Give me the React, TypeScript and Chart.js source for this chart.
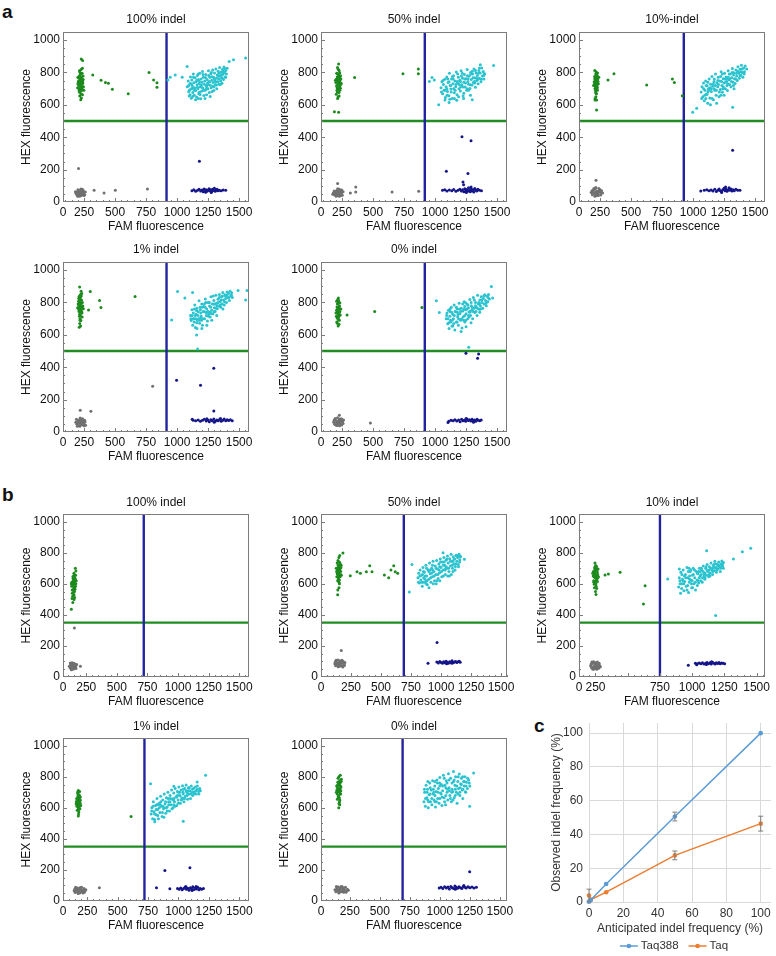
import React, { useEffect, useRef } from "react";
import { Chart, registerables } from "chart.js";
Chart.register(...registerables);

const FONT = "'Liberation Sans', Arial, sans-serif";
const GREEN = "#1d8a1d";
const CYAN = "#2ac3cf";
const NAVY = "#15158a";
const GRAY = "#707070";
const THR_BLUE = "#2323a0";
const THR_GREEN = "#218c21";

const X_TICKS = [0, 250, 500, 750, 1000, 1250, 1500];
const X_TICKS_B3 = [0, 250, 750, 1000, 1250, 1500];
const Y_TICKS = [0, 200, 400, 600, 800, 1000];
const C_TICKS = [0, 20, 40, 60, 80, 100];

// ---------- panel a ----------
const A1_GREEN = [[205,745],[214,782],[221,710],[228,760],[209,692],[233,728],[217,801],[224,668],[200,770],[238,745],[212,735],[226,818],[219,752],[231,690],[207,720],[242,778],[215,655],[222,790],[235,706],[203,742],[229,770],[211,680],[218,725],[240,735],[226,698],[213,810],[232,752],[208,765],[237,662],[221,740],[245,712],[216,775],[228,642],[198,705],[234,795],[219,684],[225,730],[210,748],[243,757],[223,632],[248,690],[236,826],[200,730],[230,715],[214,700],[227,883],[238,874],[320,785],[387,752],[422,738],[446,734],[478,697],[606,668],[774,800],[811,754],[838,709],[838,736]];
const A1_CYAN = [[1082,712],[1090,748],[1094,681],[1098,655],[1103,730],[1108,772],[1111,698],[1115,641],[1119,754],[1122,719],[1127,676],[1131,790],[1135,737],[1138,660],[1142,705],[1146,768],[1150,688],[1153,742],[1157,648],[1161,724],[1164,781],[1168,700],[1172,756],[1175,668],[1179,731],[1183,795],[1186,712],[1190,637],[1194,760],[1197,684],[1201,739],[1205,806],[1208,703],[1212,771],[1216,658],[1220,727],[1223,748],[1227,690],[1231,787],[1234,716],[1238,663],[1242,757],[1246,735],[1249,699],[1253,810],[1257,744],[1260,676],[1264,771],[1268,721],[1272,792],[1275,706],[1279,752],[1283,683],[1287,815],[1290,738],[1294,770],[1298,712],[1302,797],[1305,749],[1309,725],[1313,822],[1317,764],[1320,700],[1324,785],[1328,742],[1332,808],[1336,760],[1339,727],[1343,830],[1347,779],[1351,748],[1355,801],[1358,765],[1362,734],[1366,818],[1370,789],[1374,756],[1378,834],[1382,800],[1387,772],[1392,812],[1398,790],[1404,826],[1130,705],[1180,745],[1240,720],[1100,690],[1170,640],
  [1392,770],[1371,808],[1349,725],[1333,776],[1311,742],[1296,689],[1281,774],[1262,741],[1244,700],[1229,769],[1215,690],[1196,722],[1178,678],[1160,752],[1140,690],[1121,701],[1105,662],[1093,718],[1267,652],[1225,640],[1186,664],[1149,631],[1318,722],[1356,784],[1384,824],[1301,760],[1255,782],[1209,787],[1170,790],[1132,770],[1113,731],[1276,800],[1337,795],[1363,768],[1289,715],[1238,702],[1199,708],[1164,708],[1126,652],[1250,725],
  [926,754],[945,771],[985,785],[1041,771],[1081,837],[1420,868],[1455,878],[1553,889]];
const A1_GRAY = [[185,52],[196,61],[204,44],[210,70],[216,55],[222,38],[228,63],[235,49],[242,72],[248,58],[255,45],[200,75],[212,35],[224,80],[238,66],[250,40],[192,45],[206,58],[218,68],[230,42],[244,55],[260,62],[180,64],[226,52],[214,48],[236,78],[198,36],[205,207],[331,72],[411,56],[502,72],[761,81]];
const A1_NAVY = [[1120,70],[1135,75],[1150,66],[1165,72],[1178,78],[1190,68],[1202,74],[1210,64],[1218,80],[1226,70],[1234,76],[1242,66],[1250,72],[1258,82],[1265,69],[1272,75],[1280,64],[1287,79],[1294,71],[1301,85],[1308,67],[1315,74],[1322,78],[1330,70],[1340,73],[1355,69],[1372,74],[1392,72],[1230,60],[1275,58],[1180,252]];

const A2_GREEN = [[205,760],[214,790],[222,730],[210,705],[230,770],[218,745],[226,812],[200,738],[235,720],[212,680],[224,760],[207,795],[232,690],[216,725],[228,750],[203,665],[238,780],[220,700],[211,772],[226,655],[234,740],[208,748],[219,820],[229,712],[214,640],[240,760],[222,785],[205,718],[231,798],[217,760],[196,752],[244,732],[225,676],[213,830],[236,703],[220,770],[228,727],[209,690],[218,650],[233,755],[222,852],[188,558],[222,554],[351,769],[741,792],[865,821],[865,792]];
const A2_CYAN = [[1048,705],[1055,742],[1061,668],[1067,725],[1072,690],[1078,758],[1083,646],[1089,712],[1094,772],[1100,683],[1105,738],[1111,657],[1116,795],[1122,720],[1127,698],[1133,760],[1138,640],[1144,731],[1149,780],[1155,675],[1160,747],[1166,712],[1171,803],[1177,662],[1182,735],[1188,770],[1193,700],[1199,752],[1204,685],[1210,810],[1215,724],[1221,765],[1226,655],[1232,740],[1237,788],[1243,711],[1248,762],[1254,690],[1259,818],[1265,745],[1270,728],[1276,778],[1281,701],[1287,800],[1292,756],[1298,722],[1303,790],[1309,738],[1314,822],[1320,768],[1325,708],[1331,797],[1336,750],[1342,782],[1347,730],[1353,812],[1358,765],[1364,796],[1370,742],[1376,828],[1382,778],[1388,806],[1394,760],[1400,790],[1113,615],[1175,628],[1230,640],[1285,660],[1300,632],[1150,700],[1205,745],[1260,700],[1320,735],[1080,630],[1095,700],
  [1392,782],[1373,758],[1351,796],[1334,766],[1317,745],[1300,808],[1283,724],[1266,762],[1246,735],[1228,710],[1212,778],[1195,725],[1179,745],[1162,690],[1146,760],[1130,680],[1113,742],[1097,660],[1081,690],[1064,750],[1052,680],[1270,690],[1231,672],[1190,650],[1156,640],[1119,635],[1345,757],[1307,768],[1261,780],[1219,795],[1182,790],[1140,775],[1102,760],[1358,828],[1325,812],[1288,790],[1240,760],[1206,710],[1168,725],[1126,720],
  [954,744],[975,769],[994,754],[1029,601],[1472,843],[1365,847],[1397,792]];
const A2_GRAY = [[180,55],[190,44],[198,66],[205,50],[212,72],[218,38],[224,60],[231,48],[238,70],[245,56],[252,42],[258,63],[186,68],[202,35],[215,82],[228,78],[240,40],[195,58],[208,62],[222,46],[235,62],[248,74],[175,48],[216,54],[229,35],[214,114],[317,56],[360,93],[360,62],[653,62],[868,66]];
const A2_NAVY = [[1060,72],[1078,75],[1095,68],[1115,74],[1135,70],[1150,77],[1168,66],[1185,73],[1200,79],[1212,68],[1222,75],[1232,63],[1240,82],[1248,70],[1256,77],[1263,66],[1270,88],[1277,72],[1284,64],[1291,80],[1298,70],[1305,76],[1312,62],[1320,84],[1328,72],[1336,68],[1345,78],[1358,73],[1374,70],[1252,58],[1290,92],[1217,403],[1290,378],[1091,190],[1265,176],[1225,124],[1230,107]];

const A3_GREEN = [[208,760],[215,790],[222,735],[212,712],[226,770],[218,748],[204,728],[230,796],[214,680],[221,760],[209,700],[225,722],[217,805],[229,690],[206,775],[220,668],[233,745],[212,755],[224,715],[216,650],[202,742],[227,780],[213,692],[219,738],[231,760],[207,812],[223,700],[215,725],[236,730],[210,640],[221,785],[226,750],[218,672],[211,765],[228,705],[240,770],[198,720],[222,630],[222,568],[209,630],[314,754],[362,792],[626,723],[833,759],[849,738],[913,657]];
const A3_CYAN = [[1065,680],[1072,712],[1078,650],[1084,735],[1090,625],[1096,690],[1101,748],[1107,665],[1113,718],[1118,610],[1124,700],[1130,760],[1135,642],[1141,728],[1147,682],[1152,775],[1158,715],[1164,632],[1169,745],[1175,690],[1181,790],[1186,660],[1192,735],[1198,712],[1203,770],[1209,650],[1215,748],[1220,695],[1226,805],[1232,720],[1237,678],[1243,762],[1249,735],[1254,795],[1260,700],[1266,772],[1271,745],[1277,688],[1283,810],[1288,755],[1294,725],[1300,790],[1305,712],[1311,768],[1317,825],[1322,740],[1328,798],[1334,762],[1339,732],[1345,815],[1351,778],[1356,750],[1362,835],[1368,795],[1373,765],[1379,820],[1385,783],[1390,845],[1396,800],[1402,770],[1408,828],[1414,805],[1420,840],[1120,680],[1170,700],[1230,745],[1280,730],[1140,600],[1250,660],[1330,700],[1190,610],[1105,720],
  [1412,790],[1395,822],[1378,780],[1360,808],[1343,760],[1326,785],[1309,745],[1292,790],[1274,720],[1257,760],[1240,700],[1222,775],[1205,725],[1188,690],[1171,760],[1153,640],[1136,705],[1119,740],[1102,640],[1085,700],[1070,640],[1296,760],[1262,740],[1245,710],[1212,680],[1180,720],[1147,700],[1112,665],[1350,795],[1316,800],[1283,770],[1236,790],[1200,750],[1163,730],[1127,690],[1094,660],[1384,805],[1325,720],[1270,760],[1224,660],
  [997,554],[1029,579],[1319,585],[1432,821]];
const A3_GRAY = [[178,58],[188,45],[196,72],[204,52],[211,80],[218,38],[225,66],[232,50],[240,84],[247,60],[255,44],[262,70],[270,55],[192,62],[208,36],[216,90],[236,40],[250,76],[200,84],[228,56],[244,70],[185,70],[222,48],[258,58],[214,62],[217,134]];
const A3_NAVY = [[1062,68],[1090,72],[1110,76],[1128,70],[1145,74],[1160,68],[1175,78],[1188,65],[1200,73],[1210,80],[1220,70],[1230,64],[1240,76],[1250,85],[1258,70],[1266,78],[1274,66],[1282,74],[1290,88],[1298,72],[1306,80],[1314,68],[1322,75],[1332,70],[1345,78],[1360,72],[1378,72],[1262,92],[1230,58],[1319,320]];

const A4_GREEN = [[208,780],[215,820],[222,752],[212,795],[227,840],[218,765],[205,808],[231,770],[214,728],[221,850],[209,745],[225,790],[217,700],[229,815],[206,760],[220,830],[233,735],[212,772],[224,688],[216,805],[202,790],[228,760],[213,715],[219,782],[231,856],[207,826],[223,740],[215,670],[236,800],[210,758],[221,720],[226,870],[218,690],[211,838],[230,745],[240,778],[198,768],[222,655],[234,710],[214,748],[220,800],[244,762],[214,895],[211,647],[300,868],[375,812],[386,769],[286,754],[661,837]];
const A4_CYAN = [[1108,720],[1114,688],[1120,755],[1126,660],[1131,735],[1137,700],[1143,785],[1148,645],[1154,728],[1160,765],[1165,690],[1171,742],[1177,810],[1182,672],[1188,755],[1194,715],[1199,790],[1205,660],[1211,745],[1216,775],[1222,700],[1228,822],[1233,738],[1239,760],[1245,685],[1250,800],[1256,728],[1262,778],[1267,710],[1273,835],[1279,752],[1284,790],[1290,730],[1296,812],[1301,768],[1307,745],[1313,845],[1318,795],[1324,762],[1330,820],[1335,778],[1341,850],[1347,805],[1352,770],[1358,835],[1364,790],[1369,862],[1375,815],[1381,785],[1386,848],[1392,825],[1398,800],[1403,865],[1409,830],[1415,855],[1421,812],[1427,870],[1433,842],[1440,860],[1446,830],[1160,640],[1200,640],[1240,660],[1280,690],[1320,720],[1190,705],[1250,745],[1310,790],[1370,760],[1140,760],[1220,790],[1150,700],
  [1438,845],[1419,830],[1401,845],[1383,805],[1366,840],[1348,785],[1331,800],[1313,765],[1296,790],[1278,730],[1261,800],[1243,740],[1226,770],[1208,700],[1191,735],[1173,700],[1156,750],[1138,680],[1121,720],[1111,700],[1292,840],[1271,770],[1253,715],[1236,720],[1218,745],[1186,770],[1167,720],[1146,720],[1129,700],[1356,815],[1322,780],[1300,745],[1266,740],[1232,800],[1196,690],[1158,675],[1390,840],[1340,830],[1203,770],[1180,690],
  [956,692],[1004,868],[1125,862],[1063,827],[1157,599],[1165,513],[1492,874],[1564,874],[1553,816]];
const A4_GRAY = [[183,60],[192,48],[199,70],[206,40],[213,62],[220,52],[227,78],[234,45],[241,66],[248,55],[255,72],[262,42],[188,78],[203,55],[216,35],[224,66],[238,82],[250,38],[196,36],[210,74],[230,58],[245,48],[258,62],[218,86],[232,70],[219,134],[305,128],[803,283]];
const A4_NAVY = [[1130,72],[1150,70],[1170,74],[1188,66],[1205,72],[1220,78],[1235,68],[1248,74],[1260,64],[1272,76],[1284,70],[1296,80],[1308,67],[1320,74],[1332,70],[1344,78],[1356,66],[1368,73],[1380,80],[1392,69],[1404,75],[1416,71],[1430,76],[1445,70],[1300,60],[1350,84],[1240,82],[1122,79],[996,320],[1189,289],[1296,393],[1296,130]];

const A5_GREEN = [[205,752],[212,790],[219,725],[226,770],[210,705],[222,810],[215,742],[230,760],[207,680],[218,795],[224,715],[213,760],[228,690],[201,735],[220,828],[216,700],[232,745],[209,772],[225,665],[214,735],[206,808],[229,780],[218,655],[235,722],[211,750],[223,692],[216,820],[240,760],[204,715],[227,738],[219,770],[212,672],[232,798],[221,708],[290,723],[513,744],[894,769]];
const A5_CYAN = [[1090,700],[1096,735],[1102,668],[1108,752],[1113,640],[1119,715],[1125,690],[1131,770],[1136,655],[1142,728],[1148,700],[1154,785],[1159,630],[1165,742],[1171,680],[1177,760],[1182,712],[1188,660],[1194,795],[1200,730],[1205,690],[1211,765],[1217,642],[1223,748],[1228,712],[1234,805],[1240,680],[1246,755],[1251,730],[1257,790],[1263,700],[1269,768],[1274,742],[1280,818],[1286,720],[1292,780],[1297,755],[1303,700],[1309,830],[1315,765],[1320,738],[1326,800],[1332,772],[1338,720],[1343,845],[1349,790],[1355,758],[1361,815],[1366,778],[1372,835],[1378,800],[1384,765],[1390,825],[1395,790],[1401,848],[1407,812],[1413,780],[1419,838],[1425,805],[1431,850],[1438,822],[1210,620],[1250,650],[1290,675],[1150,670],[1230,690],[1330,745],[1180,740],[1270,720],[1360,740],[1120,745],[1240,775],
  [1428,830],[1410,795],[1393,840],[1376,815],[1359,790],[1342,765],[1325,780],[1308,745],[1291,800],[1274,710],[1257,760],[1240,720],[1223,790],[1206,745],[1189,700],[1172,770],[1155,720],[1138,690],[1121,760],[1104,700],[1093,720],[1300,770],[1283,745],[1265,785],[1248,690],[1214,700],[1196,760],[1178,680],[1161,745],[1143,655],[1126,680],[1352,800],[1317,815],[1232,760],[1185,725],[1133,740],[1368,760],[1280,740],[1245,800],[1110,675],
  [1010,810],[1034,738],[1454,899],[1464,827],[1271,523]];
const A5_GRAY = [[182,60],[190,48],[198,72],[205,55],[212,40],[219,66],[226,80],[233,52],[240,70],[247,44],[254,62],[262,74],[194,84],[208,64],[216,50],[230,38],[244,82],[258,52],[202,42],[223,58],[236,64],[250,76],[186,72],[214,88],[228,68],[478,56],[228,103]];
const A5_NAVY = [[1110,66],[1128,72],[1145,70],[1160,75],[1175,68],[1190,74],[1202,64],[1214,78],[1225,70],[1236,73],[1247,66],[1258,80],[1268,71],[1278,75],[1288,68],[1298,78],[1308,70],[1318,74],[1328,66],[1338,79],[1348,72],[1360,70],[1372,74],[1250,84],[1310,60],[1104,58],[1249,486],[1351,482],[1343,455]];

// ---------- panel b ----------
const B1_GREEN = [[140,600],[148,632],[155,575],[135,560],[160,618],[145,545],[152,655],[138,590],[162,585],[143,620],[150,530],[157,640],[133,610],[147,570],[165,600],[141,648],[153,605],[136,540],[158,565],[149,668],[144,595],[161,630],[131,585],[154,550],[146,615],[139,520],[163,655],[151,580],[142,635],[157,603],[128,600],[168,620],[150,500],[140,480],[155,512],[134,505],[165,683],[148,560],[161,701],[128,437]];
const B1_CYAN: number[][] = [];
const B1_GRAY = [[112,70],[118,58],[124,82],[130,64],[136,50],[142,76],[148,88],[154,60],[160,72],[166,54],[172,80],[120,90],[128,46],[140,62],[150,68],[158,84],[134,92],[146,52],[164,66],[126,74],[144,84],[138,70],[153,315],[202,69]];
const B1_NAVY: number[][] = [];

const B2_GREEN = [[140,680],[148,712],[155,650],[135,665],[160,700],[145,630],[152,740],[138,690],[163,660],[143,720],[150,610],[157,690],[132,645],[147,670],[166,705],[141,750],[153,625],[136,700],[159,645],[149,770],[144,660],[161,725],[130,680],[154,600],[146,695],[139,620],[164,680],[151,710],[142,650],[158,735],[127,700],[170,655],[150,575],[140,560],[156,782],[135,735],[168,720],[147,640],[183,799],[139,530],[244,653],[300,678],[328,668],[378,678],[425,678],[406,717],[528,657],[564,640],[606,717],[619,678],[639,668],[583,689]];
const B2_CYAN = [[808,640],[814,668],[820,605],[826,690],[832,625],[838,655],[844,585],[850,705],[856,640],[862,675],[868,610],[874,720],[880,650],[886,595],[892,690],[898,630],[904,735],[910,665],[916,610],[922,700],[928,645],[934,745],[940,680],[946,620],[952,715],[958,660],[964,750],[970,695],[976,635],[982,728],[988,672],[994,760],[1000,705],[1006,645],[1012,740],[1018,690],[1024,770],[1030,720],[1036,660],[1042,752],[1048,700],[1054,780],[1060,735],[1066,680],[1072,762],[1078,715],[1084,790],[1090,745],[1096,700],[1102,775],[1108,730],[1114,760],[1120,712],[1126,782],[1132,745],[1138,770],[1144,725],[1150,790],[1156,755],[1162,775],[880,700],[930,690],[990,620],[1040,700],[1100,680],[960,600],[850,610],[1020,650],[900,575],[1070,650],
  [1155,740],[1140,780],[1124,730],[1109,760],[1094,720],[1079,745],[1064,700],[1049,760],[1034,690],[1019,720],[1004,680],[989,710],[974,660],[959,700],[944,650],[929,720],[914,640],[899,680],[884,620],[869,650],[854,680],[839,610],[824,650],[812,610],[1117,690],[1086,660],[1056,650],[1026,740],[996,740],[966,620],[936,600],[906,690],[876,600],[846,660],[1146,710],[1098,745],[1044,710],[984,690],[924,670],[866,630],
  [758,725],[736,547],[1017,801],[1161,778],[1195,759],[1128,784]];
const B2_GRAY = [[115,85],[122,72],[129,98],[136,80],[143,66],[150,92],[157,105],[164,76],[171,88],[178,70],[185,100],[192,82],[199,94],[125,108],[140,110],[155,70],[168,98],[182,64],[132,90],[147,80],[160,88],[175,108],[118,96],[195,74],[169,170]];
const B2_NAVY = [[965,96],[978,90],[990,100],[1002,93],[1012,88],[1022,98],[1032,92],[1042,102],[1052,95],[1062,89],[1072,99],[1082,94],[1092,104],[1102,91],[1112,97],[1122,100],[1132,93],[1142,98],[1152,102],[1160,95],[1047,86],[1090,88],[892,89],[967,223]];

const B3_GREEN = [[245,660],[252,690],[259,630],[240,645],[264,675],[249,610],[256,700],[238,665],[268,640],[247,685],[253,600],[261,655],[236,620],[250,650],[270,695],[243,705],[257,625],[234,680],[265,615],[251,718],[246,640],[262,690],[232,650],[255,585],[248,670],[240,598],[267,660],[254,640],[244,695],[259,570],[228,668],[273,645],[250,550],[242,575],[258,712],[237,610],[246,734],[254,531],[324,657],[350,663],[441,674],[635,588],[622,471]];
const B3_CYAN = [[900,640],[906,600],[912,675],[918,570],[924,630],[930,690],[936,555],[942,615],[948,660],[954,585],[960,705],[966,640],[972,545],[978,610],[984,680],[990,625],[996,575],[1002,655],[1008,700],[1014,600],[1020,640],[1026,560],[1032,680],[1038,625],[1044,665],[1050,605],[1056,700],[1062,650],[1068,620],[1074,690],[1080,640],[1086,715],[1092,665],[1098,630],[1104,700],[1110,655],[1116,725],[1122,680],[1128,645],[1134,710],[1140,670],[1146,735],[1152,690],[1158,660],[1164,720],[1170,685],[1176,745],[1182,705],[1188,675],[1194,728],[1200,695],[1206,740],[1212,710],[1218,680],[1224,730],[1230,748],[1236,715],[1242,700],[940,650],[970,680],[1000,620],[1050,680],[1100,670],[920,600],[980,650],[1160,700],[1130,690],[1070,660],[1040,590],[910,540],
  [1236,730],[1221,700],[1205,720],[1190,690],[1175,730],[1160,680],[1145,700],[1130,660],[1115,690],[1100,640],[1085,680],[1070,700],[1055,640],[1040,670],[1025,610],[1010,660],[995,600],[980,630],[965,590],[950,640],[935,600],[920,660],[905,620],[895,580],[1003,575],[960,560],[990,690],[1018,690],[1048,620],[1078,610],[1108,710],[1138,650],[1168,710],[1198,715],[1228,715],[930,620],[976,700],[1062,680],[1093,650],[1185,700],
  [810,631],[900,696],[1112,813],[1242,738],[1320,760],[1389,807],[1454,830],[1203,717],[1182,396]];
const B3_GRAY = [[212,72],[219,60],[226,85],[233,66],[240,52],[247,78],[254,92],[261,62],[268,80],[275,56],[282,74],[288,66],[222,96],[236,98],[250,58],[264,96],[278,88],[230,50],[244,70],[258,74],[272,68],[216,84],[246,88],[260,50]];
const B3_NAVY = [[1025,88],[1040,85],[1055,90],[1068,86],[1080,92],[1092,84],[1104,89],[1115,94],[1126,86],[1137,91],[1148,83],[1158,95],[1168,88],[1178,84],[1188,92],[1198,87],[1208,94],[1218,85],[1228,90],[1240,88],[1252,86],[1150,98],[1110,80],[970,75],[1035,79]];

const B4_GREEN = [[172,640],[178,665],[184,615],[168,625],[188,655],[175,600],[181,685],[166,645],[191,630],[173,675],[179,590],[186,645],[164,610],[177,630],[193,670],[170,700],[183,605],[162,660],[189,595],[176,712],[171,620],[185,680],[160,640],[180,575],[174,655],[167,585],[192,648],[182,625],[172,690],[178,560],[158,625],[196,615],[176,548],[187,705],[610,544]];
const B4_CYAN = [[775,560],[781,600],[787,530],[793,640],[799,575],[805,510],[811,615],[817,555],[823,660],[829,590],[835,530],[841,630],[847,570],[853,675],[859,610],[865,545],[871,650],[877,595],[883,690],[889,625],[895,565],[901,665],[907,605],[913,700],[919,640],[925,580],[931,680],[937,620],[943,715],[949,655],[955,600],[961,695],[967,640],[973,725],[979,670],[985,615],[991,705],[997,650],[1003,735],[1009,680],[1015,630],[1021,715],[1027,665],[1033,742],[1039,690],[1045,640],[1051,725],[1057,675],[1063,748],[1069,700],[1075,655],[1081,730],[1087,690],[1093,710],[1099,660],[1105,740],[1111,700],[1117,680],[1123,725],[1130,700],[1138,735],[1146,690],[1155,720],[1165,705],[1175,725],[850,620],[900,600],[960,660],[1010,700],[880,540],[930,640],[990,680],[820,620],[1040,720],[1070,680],
  [1180,710],[1168,690],[1155,740],[1142,710],[1128,690],[1115,720],[1102,690],[1089,730],[1076,690],[1063,710],[1050,660],[1037,700],[1024,650],[1011,680],[998,630],[985,670],[972,610],[959,650],[946,595],[933,660],[920,620],[907,580],[894,640],[881,600],[868,570],[855,640],[842,600],[829,550],[816,590],[803,560],[790,610],[780,580],[1000,700],[1040,660],[1080,710],[1120,700],[960,620],[915,660],[870,610],[830,620],
  [770,756],[962,739],[1154,767],[1223,810],[1039,514],[803,525]];
const B4_GRAY = [[142,66],[150,55],[158,78],[166,62],[174,48],[182,72],[190,86],[198,58],[206,70],[214,52],[222,80],[230,64],[238,72],[154,88],[170,84],[186,52],[202,88],[218,66],[146,76],[162,70],[178,60],[194,78],[210,62],[226,56],[349,86]];
const B4_NAVY = [[992,80],[1005,76],[1018,84],[1030,72],[1042,80],[1054,88],[1065,75],[1076,82],[1087,70],[1098,86],[1108,78],[1118,92],[1128,74],[1138,84],[1148,78],[1158,88],[1168,72],[1178,80],[1190,76],[1205,80],[1060,94],[1112,68],[1145,93],[888,197],[1094,214],[819,86],[929,79]];

const B5_GREEN = [[155,720],[162,752],[168,695],[150,705],[172,740],[158,680],[165,775],[148,730],[175,710],[156,760],[163,665],[170,725],[145,690],[160,745],[178,770],[152,790],[167,650],[142,715],[174,690],[159,800],[153,670],[169,760],[140,740],[164,640],[157,705],[146,655],[176,735],[162,715],[150,765],[166,620],[138,700],[180,785],[158,600],[171,810],[160,628],[148,745]];
const B5_CYAN = [[868,640],[874,700],[880,610],[886,745],[892,665],[898,720],[904,600],[910,685],[916,760],[922,640],[928,715],[934,620],[940,775],[946,690],[952,650],[958,740],[964,605],[970,705],[976,780],[982,660],[988,725],[994,630],[1000,795],[1006,695],[1012,750],[1018,615],[1024,710],[1030,810],[1036,665],[1042,745],[1048,620],[1054,775],[1060,700],[1066,650],[1072,820],[1078,730],[1084,680],[1090,790],[1096,640],[1102,760],[1108,705],[1114,835],[1120,665],[1126,745],[1132,800],[1138,700],[1144,630],[1150,770],[1156,725],[1162,818],[1168,680],[1174,755],[1180,790],[1186,715],[1192,660],[1198,770],[1204,740],[1210,800],[1216,700],[1222,765],[1230,725],[1240,780],[1250,740],[900,650],[950,700],[1000,660],[1050,730],[1100,700],[1150,690],[1000,740],[920,690],[1060,760],[960,640],[1120,780],
  [1245,760],[1232,790],[1219,740],[1206,770],[1193,720],[1180,750],[1167,700],[1154,800],[1141,740],[1128,680],[1115,770],[1102,720],[1089,660],[1076,780],[1063,720],[1050,680],[1037,790],[1024,740],[1011,690],[998,760],[985,700],[972,640],[959,770],[946,720],[933,660],[920,730],[907,640],[894,700],[881,660],[872,720],[1130,720],[1080,710],[1020,670],[960,680],[900,770],[1190,800],[1110,650],[1040,640],[980,760],[1170,730],
  [1282,825],[1249,611],[1213,703]];
const B5_GRAY = [[126,72],[134,60],[142,84],[150,66],[158,52],[166,78],[174,92],[182,62],[190,80],[198,56],[206,70],[214,88],[222,64],[230,76],[238,70],[138,94],[154,90],[170,58],[186,94],[202,84],[146,74],[162,68],[178,82],[194,70],[218,56]];
const B5_NAVY = [[995,84],[1010,88],[1025,80],[1040,92],[1055,84],[1068,90],[1080,78],[1092,94],[1104,86],[1115,80],[1126,96],[1137,88],[1148,82],[1160,92],[1172,86],[1184,80],[1196,94],[1208,88],[1220,84],[1235,92],[1250,86],[1268,90],[1285,84],[1305,88],[1130,75],[1200,100],[1249,189]];

// ---------- panel c ----------
const C_X = [0, 1, 10, 50, 100];
const TAQ388_Y = [0.2, 1.2, 10.7, 50.6, 100];
const TAQ388_ERR = [0, 0, 0, 2.6, 0];
const TAQ_Y = [3.8, 1.4, 5.8, 27.6, 46.4];
const TAQ_ERR = [3.8, 0, 0, 2.6, 4.4];

type Plot = {
  title: string; left: number; top: number; w: number; h: number; tpad: number;
  xMin: number; xMax: number; xThr: number; yThr: number; xTicks: number[];
  green: number[][]; cyan: number[][]; navy: number[][]; gray: number[][];
};

const A_ROW = [32, 262];
const B_ROW = [514, 738];
const COLS = [63, 321, 579];

const PLOTS: Plot[] = [
  { title: "100% indel", left: COLS[0], top: A_ROW[0], w: 186, h: 170, tpad: 6, xMin: 80, xMax: 1580, xThr: 915, yThr: 500, xTicks: X_TICKS, green: A1_GREEN, cyan: A1_CYAN, navy: A1_NAVY, gray: A1_GRAY },
  { title: "50% indel", left: COLS[1], top: A_ROW[0], w: 186, h: 170, tpad: 6, xMin: 80, xMax: 1580, xThr: 917, yThr: 500, xTicks: X_TICKS, green: A2_GREEN, cyan: A2_CYAN, navy: A2_NAVY, gray: A2_GRAY },
  { title: "10%-indel", left: COLS[2], top: A_ROW[0], w: 186, h: 170, tpad: 6, xMin: 80, xMax: 1580, xThr: 925, yThr: 500, xTicks: X_TICKS, green: A3_GREEN, cyan: A3_CYAN, navy: A3_NAVY, gray: A3_GRAY },
  { title: "1% indel", left: COLS[0], top: A_ROW[1], w: 186, h: 170, tpad: 6, xMin: 80, xMax: 1580, xThr: 915, yThr: 500, xTicks: X_TICKS, green: A4_GREEN, cyan: A4_CYAN, navy: A4_NAVY, gray: A4_GRAY },
  { title: "0% indel", left: COLS[1], top: A_ROW[1], w: 186, h: 170, tpad: 6, xMin: 80, xMax: 1580, xThr: 917, yThr: 500, xTicks: X_TICKS, green: A5_GREEN, cyan: A5_CYAN, navy: A5_NAVY, gray: A5_GRAY },
  { title: "100% indel", left: COLS[0], top: B_ROW[0], w: 186, h: 163, tpad: 5, xMin: 60, xMax: 1580, xThr: 720, yThr: 350, xTicks: X_TICKS, green: B1_GREEN, cyan: B1_CYAN, navy: B1_NAVY, gray: B1_GRAY },
  { title: "50% indel", left: COLS[1], top: B_ROW[0], w: 186, h: 163, tpad: 5, xMin: 0, xMax: 1550, xThr: 690, yThr: 350, xTicks: X_TICKS, green: B2_GREEN, cyan: B2_CYAN, navy: B2_NAVY, gray: B2_GRAY },
  { title: "10% indel", left: COLS[2], top: B_ROW[0], w: 186, h: 163, tpad: 5, xMin: 122, xMax: 1565, xThr: 750, yThr: 350, xTicks: X_TICKS_B3, green: B3_GREEN, cyan: B3_CYAN, navy: B3_NAVY, gray: B3_GRAY },
  { title: "1% indel", left: COLS[0], top: B_ROW[1], w: 186, h: 163, tpad: 5, xMin: 50, xMax: 1580, xThr: 720, yThr: 350, xTicks: X_TICKS, green: B4_GREEN, cyan: B4_CYAN, navy: B4_NAVY, gray: B4_GRAY },
  { title: "0% indel", left: COLS[1], top: B_ROW[1], w: 186, h: 163, tpad: 5, xMin: 10, xMax: 1560, xThr: 690, yThr: 350, xTicks: X_TICKS, green: B5_GREEN, cyan: B5_CYAN, navy: B5_NAVY, gray: B5_GRAY },
];

const Y_W = 44;
const X_H = 32;
const PAD_R = 11;
const TITLE_LH = 12;

function toXY(arr: number[][]) {
  return arr.map(([x, y]) => ({ x, y }));
}

function ScatterPlot({ p }: { p: Plot }) {
  const ref = useRef<HTMLCanvasElement>(null);
  const cw = Y_W + p.w + PAD_R;
  const chh = TITLE_LH + p.tpad + p.h + X_H;
  useEffect(() => {
    const font = { family: FONT, size: 12 };
    const frame = {
      id: "frame",
      beforeDatasetsDraw(chart: any) {
        const { ctx, chartArea: a, scales } = chart;
        ctx.save();
        ctx.lineWidth = 2.4;
        ctx.strokeStyle = THR_GREEN;
        const py = scales.y.getPixelForValue(p.yThr);
        ctx.beginPath(); ctx.moveTo(a.left, py); ctx.lineTo(a.right, py); ctx.stroke();
        ctx.strokeStyle = THR_BLUE;
        const px = scales.x.getPixelForValue(p.xThr);
        ctx.beginPath(); ctx.moveTo(px, a.top); ctx.lineTo(px, a.bottom); ctx.stroke();
        ctx.restore();
      },
      afterDraw(chart: any) {
        const { ctx, chartArea: a, scales } = chart;
        ctx.save();
        ctx.strokeStyle = "#7c7c7c";
        ctx.lineWidth = 1;
        ctx.strokeRect(a.left + 0.5, a.top + 0.5, a.right - a.left - 1, a.bottom - a.top - 1);
        ctx.beginPath();
        for (let v = Math.ceil(p.xMin / 50) * 50; v <= p.xMax; v += 50) {
          const x = Math.round(scales.x.getPixelForValue(v)) + 0.5;
          const len = v % 250 === 0 ? 4 : 2;
          ctx.moveTo(x, a.bottom); ctx.lineTo(x, a.bottom - len);
        }
        for (let v = 50; v <= 1050; v += 50) {
          const y = Math.round(scales.y.getPixelForValue(v)) + 0.5;
          const len = v % 200 === 0 ? 4 : 2;
          ctx.moveTo(a.left, y); ctx.lineTo(a.left + len, y);
        }
        ctx.stroke();
        ctx.restore();
      },
    };
    const ds = (data: number[][], color: string) => ({
      data: toXY(data), backgroundColor: color, borderColor: color,
      pointRadius: 1.5, pointBorderWidth: 0, pointHoverRadius: 1.5,
    });
    const chart = new Chart(ref.current!, {
      type: "scatter",
      data: {
        datasets: [ds(p.gray, GRAY), ds(p.green, GREEN), ds(p.navy, NAVY), ds(p.cyan, CYAN)],
      },
      options: {
        animation: false,
        responsive: false,
        events: [],
        layout: { padding: { top: 0, right: PAD_R, bottom: 0, left: 0 } },
        plugins: {
          legend: { display: false },
          tooltip: { enabled: false },
          title: {
            display: true, text: p.title, fullSize: false, color: "#111",
            font: { family: FONT, size: 12, weight: "normal", lineHeight: 1 },
            padding: { top: 0, bottom: p.tpad },
          },
        },
        scales: {
          x: {
            type: "linear", min: p.xMin, max: p.xMax,
            afterBuildTicks: (s: any) => { s.ticks = p.xTicks.map((v) => ({ value: v === 0 ? p.xMin : v })); },
            afterFit: (s: any) => { s.height = X_H; },
            grid: { display: false, drawTicks: false }, border: { display: false },
            ticks: {
              padding: 3, font, color: "#111", maxRotation: 0, autoSkip: false,
              callback: (v: any) => (v === p.xMin ? "0" : String(v)),
            },
            title: { display: true, text: "FAM fluorescence", font, color: "#111", padding: 0 },
          },
          y: {
            type: "linear", min: 0, max: 1050,
            afterBuildTicks: (s: any) => { s.ticks = Y_TICKS.map((v) => ({ value: v })); },
            afterFit: (s: any) => { s.width = Y_W; },
            grid: { display: false, drawTicks: false }, border: { display: false },
            ticks: { padding: 3, font, color: "#111", autoSkip: false, callback: (v: any) => String(v) },
            title: { display: true, text: "HEX fluorescence", font, color: "#111", padding: 0 },
          },
        },
      } as any,
      plugins: [frame],
    });
    return () => chart.destroy();
  }, []);
  return (
    <canvas
      ref={ref}
      width={cw}
      height={chh}
      style={{ position: "absolute", left: p.left - Y_W, top: p.top - TITLE_LH - p.tpad, width: cw, height: chh }}
    />
  );
}

const C_BOX = { left: 589, top: 723, w: 183, h: 179 };
const C_YW = 40, C_XH = 34, C_PT = 14, C_PB = 18, C_PR = 3;
const BLUE = "#5b9bd5";
const ORANGE = "#ed7d31";

function LineChart() {
  const ref = useRef<HTMLCanvasElement>(null);
  const cw = C_YW + C_BOX.w + C_PR;
  const chh = C_PT + C_BOX.h + C_XH + C_PB;
  useEffect(() => {
    const font = { family: FONT, size: 12 };
    const errs = [TAQ388_ERR, TAQ_ERR];
    const errPlugin = {
      id: "errbars",
      afterDatasetsDraw(chart: any) {
        const { ctx, scales } = chart;
        ctx.save();
        ctx.strokeStyle = "#7f7f7f";
        ctx.lineWidth = 1;
        chart.data.datasets.forEach((d: any, di: number) => {
          d.data.forEach((pt: any, i: number) => {
            const e = errs[di][i];
            if (!e) return;
            const x = scales.x.getPixelForValue(pt.x);
            const y1 = scales.y.getPixelForValue(pt.y - e);
            const y2 = scales.y.getPixelForValue(pt.y + e);
            ctx.beginPath();
            ctx.moveTo(x, y1); ctx.lineTo(x, y2);
            ctx.moveTo(x - 2.5, y1); ctx.lineTo(x + 2.5, y1);
            ctx.moveTo(x - 2.5, y2); ctx.lineTo(x + 2.5, y2);
            ctx.stroke();
          });
        });
        ctx.restore();
      },
      afterDraw(chart: any) {
        const { ctx, chartArea: a } = chart;
        ctx.save();
        ctx.font = `11.5px ${FONT}`;
        ctx.textBaseline = "middle";
        const items = chart.data.datasets.map((d: any) => ({ label: d.label, color: d.borderColor }));
        const lineLen = 18, gap = 3, itemGap = 10;
        const widths = items.map((it: any) => lineLen + gap + ctx.measureText(it.label).width);
        const total = widths.reduce((s: number, w: number) => s + w, 0) + itemGap * (items.length - 1);
        let x = (a.left + a.right) / 2 - total / 2 - 6;
        const y = a.bottom + 44;
        items.forEach((it: any, i: number) => {
          ctx.strokeStyle = it.color; ctx.fillStyle = it.color; ctx.lineWidth = 1.5;
          ctx.beginPath(); ctx.moveTo(x, y); ctx.lineTo(x + lineLen, y); ctx.stroke();
          ctx.beginPath(); ctx.arc(x + lineLen / 2, y, 2.3, 0, Math.PI * 2); ctx.fill();
          ctx.fillStyle = "#333";
          ctx.fillText(it.label, x + lineLen + gap, y);
          x += widths[i] + itemGap;
        });
        ctx.restore();
      },
    };
    const mk = (label: string, ys: number[], color: string) => ({
      label,
      data: C_X.map((x, i) => ({ x, y: ys[i] })),
      showLine: true, borderColor: color, backgroundColor: color,
      pointBackgroundColor: color, pointBorderColor: color,
      borderWidth: 1.5, pointRadius: 2.3, pointBorderWidth: 0, tension: 0, clip: false,
    });
    const chart = new Chart(ref.current!, {
      type: "scatter",
      data: { datasets: [mk("Taq388", TAQ388_Y, BLUE), mk("Taq", TAQ_Y, ORANGE)] },
      options: {
        animation: false,
        responsive: false,
        events: [],
        layout: { padding: { top: C_PT, right: C_PR, bottom: C_PB, left: 0 } },
        plugins: { legend: { display: false }, tooltip: { enabled: false } },
        scales: {
          x: {
            type: "linear", min: 0, max: 106,
            afterBuildTicks: (s: any) => { s.ticks = C_TICKS.map((v) => ({ value: v })); },
            afterFit: (s: any) => { s.height = C_XH; },
            grid: { color: "#d9d9d9", drawTicks: false }, border: { display: false },
            ticks: { padding: 4, font, color: "#333", maxRotation: 0 },
            title: { display: true, text: "Anticipated indel frequency (%)", font, color: "#333", padding: 0 },
          },
          y: {
            type: "linear", min: 0, max: 106,
            afterBuildTicks: (s: any) => { s.ticks = C_TICKS.map((v) => ({ value: v })); },
            afterFit: (s: any) => { s.width = C_YW; },
            grid: { color: "#d9d9d9", drawTicks: false }, border: { display: false },
            ticks: { padding: 6, font, color: "#333" },
            title: { display: true, text: "Observed indel frequency (%)", font, color: "#333", padding: 0 },
          },
        },
      } as any,
      plugins: [errPlugin],
    });
    return () => chart.destroy();
  }, []);
  return (
    <canvas
      ref={ref}
      width={cw}
      height={chh}
      style={{ position: "absolute", left: C_BOX.left - C_YW, top: C_BOX.top - C_PT, width: cw, height: chh }}
    />
  );
}

const letterStyle = (left: number, top: number): React.CSSProperties => ({
  position: "absolute", left, top, fontFamily: FONT, fontWeight: "bold",
  fontSize: 19, lineHeight: "19px", color: "#111",
});

export default function App() {
  return (
    <div style={{ position: "absolute", left: 0, top: 0, width: 776, height: 956, overflow: "hidden", background: "#fff" }}>
      <div style={letterStyle(2, 2)}>a</div>
      <div style={letterStyle(2, 485)}>b</div>
      <div style={letterStyle(534, 716)}>c</div>
      {PLOTS.map((p, i) => (
        <ScatterPlot key={i} p={p} />
      ))}
      <LineChart />
    </div>
  );
}
